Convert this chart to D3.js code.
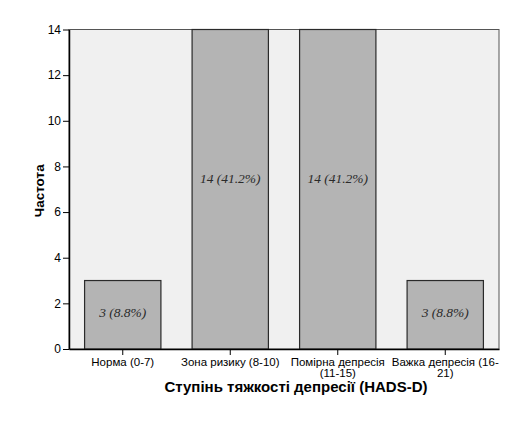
<!DOCTYPE html>
<html>
<head>
<meta charset="utf-8">
<script src="https://cdn.jsdelivr.net/npm/d3@7"></script>
<style>
  body { margin: 0; background: #fff; }
  svg { display: block; }
</style>
</head>
<body>
<svg id="chart" width="529" height="431"></svg>
<script>
// data
const categories = ["Норма (0-7)", "Зона ризику (8-10)", "Помірна депресія (11-15)", "Важка депресія (16-21)"];
const tickLines = [["Норма (0-7)"], ["Зона ризику (8-10)"], ["Помірна депресія", "(11-15)"], ["Важка депресія (16-", "21)"]];
const counts = [3, 14, 14, 3];
const yTicks = [0, 2, 4, 6, 8, 10, 12, 14];

const svg = d3.select("svg#chart");
const margin = { top: 29.5, right: 30, bottom: 82, left: 69 };
const width = +svg.attr("width");
const height = +svg.attr("height");
const chartWidth = width - margin.left - margin.right;
const chartHeight = height - margin.top - margin.bottom;

const total = d3.sum(counts);
const pct = d3.format(".1f");

const x = d3.scaleBand(categories, [0, chartWidth]).paddingInner(0.29).paddingOuter(0.145);
const y = d3.scaleLinear([0, 14], [chartHeight, 0]);

const g = svg.append("g").attr("transform", `translate(${margin.left},${margin.top})`);

// plot background and frame
g.append("rect")
  .attr("width", chartWidth)
  .attr("height", chartHeight)
  .attr("fill", "#f0f0f0")
  .attr("stroke", "#555")
  .attr("stroke-width", 1);

// bars
g.selectAll("rect.bar")
  .data(counts)
  .join("rect")
  .attr("class", "bar")
  .attr("x", (d, i) => x(categories[i]))
  .attr("y", (d) => y(d))
  .attr("width", x.bandwidth())
  .attr("height", (d) => y(0) - y(d))
  .attr("fill", "#b4b4b4")
  .attr("stroke", "#2a2a2a")
  .attr("stroke-width", 1.2);

// value labels
g.selectAll("text.val")
  .data(counts)
  .join("text")
  .attr("class", "val")
  .attr("x", (d, i) => x(categories[i]) + x.bandwidth() / 2)
  .attr("y", (d) => y(d * 0.535))
  .attr("dy", "0.35em")
  .attr("text-anchor", "middle")
  .style("font-family", "'Liberation Serif', serif")
  .style("font-style", "italic")
  .style("font-size", "13.5px")
  .style("fill", "#2a2a2a")
  .text((d) => `${d} (${pct((d / total) * 100)}%)`);

// y axis
const yAxis = g.append("g")
  .call(d3.axisLeft(y).tickValues(yTicks).tickSize(6).tickPadding(2).tickSizeOuter(0));
yAxis.select(".domain").attr("stroke", "#000").attr("stroke-width", 1.5);
yAxis.selectAll("line").attr("stroke", "#000");
yAxis.selectAll("text")
  .style("font-family", "'Liberation Sans', Arial, sans-serif")
  .style("font-size", "12px")
  .style("fill", "#000");

// x axis
const xAxis = g.append("g")
  .attr("transform", `translate(0,${chartHeight})`)
  .call(d3.axisBottom(x).tickSize(6).tickSizeOuter(0).tickFormat(""));
xAxis.select(".domain").attr("stroke", "#000").attr("stroke-width", 1.5);
xAxis.selectAll("line").attr("stroke", "#000");

xAxis.selectAll("g.tick")
  .append("text")
  .attr("text-anchor", "middle")
  .style("font-family", "'Liberation Sans', Arial, sans-serif")
  .style("font-size", "11.5px")
  .style("fill", "#000")
  .selectAll("tspan")
  .data((d) => tickLines[categories.indexOf(d)])
  .join("tspan")
  .attr("x", 0)
  .attr("y", (d, i) => 17 + i * 11)
  .text((d) => d);

// axis titles
svg.append("text")
  .attr("transform", `translate(44,${margin.top + chartHeight * 0.505}) rotate(-90)`)
  .attr("text-anchor", "middle")
  .style("font-family", "'Liberation Sans', Arial, sans-serif")
  .style("font-weight", "bold")
  .style("font-size", "13.5px")
  .text("Частота");

svg.append("text")
  .attr("x", 296)
  .attr("y", 392)
  .attr("text-anchor", "middle")
  .style("font-family", "'Liberation Sans', Arial, sans-serif")
  .style("font-weight", "bold")
  .style("font-size", "15px")
  .text("Ступінь тяжкості депресії (HADS-D)");
</script>
</body>
</html>
